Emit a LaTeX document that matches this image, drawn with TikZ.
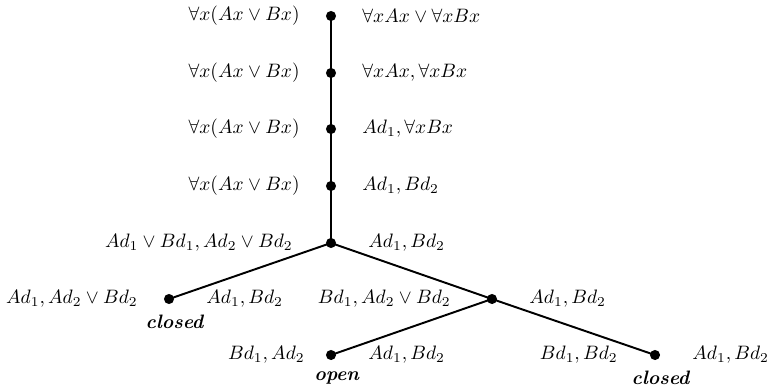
\documentclass[tikz,border=0pt]{standalone}
\usepackage{amsmath}
\begin{document}
\begin{tikzpicture}[x=0.515pt,y=-0.515pt,
  dot/.style={circle,fill=black,inner sep=0pt,minimum size=5.2pt},
  edge/.style={line width=1pt},
  lab/.style={inner sep=0pt,font=\normalsize},
  st/.style={inner sep=0pt}]
\useasboundingbox (0,0) rectangle (769,387);
\node[dot] (n1) at (331,16) {};
\node[dot] (n2) at (331,73) {};
\node[dot] (n3) at (331,129) {};
\node[dot] (n4) at (331,186) {};
\node[dot] (n5) at (331,243) {};
\node[dot] (n6) at (169,299) {};
\node[dot] (n7) at (492,299) {};
\node[dot] (n8) at (331,355) {};
\node[dot] (n9) at (655,355) {};
\draw[edge] (n1.center) -- (n2.center) -- (n3.center) -- (n4.center) -- (n5.center);
\draw[edge] (n5.center) -- (n6.center);
\draw[edge] (n5.center) -- (n7.center) -- (n9.center);
\draw[edge] (n7.center) -- (n8.center);
% labels
\node[lab,anchor=east] (l1) at (300,16) {$\forall x(Ax\vee Bx)$};
\node[lab,anchor=west] (r1) at (362,16) {$\forall xAx\vee\forall xBx$};
\node[lab,anchor=east] (l2) at (300,73) {$\forall x(Ax\vee Bx)$};
\node[lab,anchor=west] (r2) at (362,73) {$\forall xAx,\forall xBx$};
\node[lab,anchor=east] (l3) at (300,129) {$\forall x(Ax\vee Bx)$};
\node[lab,anchor=west] (r3) at (362,129) {$Ad_1,\forall xBx$};
\node[lab,anchor=east] (l4) at (300,186) {$\forall x(Ax\vee Bx)$};
\node[lab,anchor=west] (r4) at (362,186) {$Ad_1,Bd_2$};
\node[lab,anchor=east] (l5) at (293,243) {$Ad_1\vee Bd_1,Ad_2\vee Bd_2$};
\node[lab,anchor=west] (r5) at (368,243) {$Ad_1,Bd_2$};
\node[lab,anchor=east] (l6) at (138,299) {$Ad_1,Ad_2\vee Bd_2$};
\node[lab,anchor=west] (r6) at (206,299) {$Ad_1,Bd_2$};
\node[lab,anchor=east] (l7) at (451,299) {$Bd_1,Ad_2\vee Bd_2$};
\node[lab,anchor=west] (r7) at (529,299) {$Ad_1,Bd_2$};
\node[lab,anchor=east] (l8) at (305,355) {$Bd_1,Ad_2$};
\node[lab,anchor=west] (r8) at (368,355) {$Ad_1,Bd_2$};
\node[lab,anchor=east] (l9) at (618,355) {$Bd_1,Bd_2$};
\node[lab,anchor=west] (r9) at (692,355) {$Ad_1,Bd_2$};
% status
\node[st] (s6) at (175,322) {\textbf{\textit{closed}}};
\node[st] (s8) at (337,378) {\textbf{\textit{open}}};
\node[st] (s9) at (661,378) {\textbf{\textit{closed}}};
\end{tikzpicture}
\end{document}
